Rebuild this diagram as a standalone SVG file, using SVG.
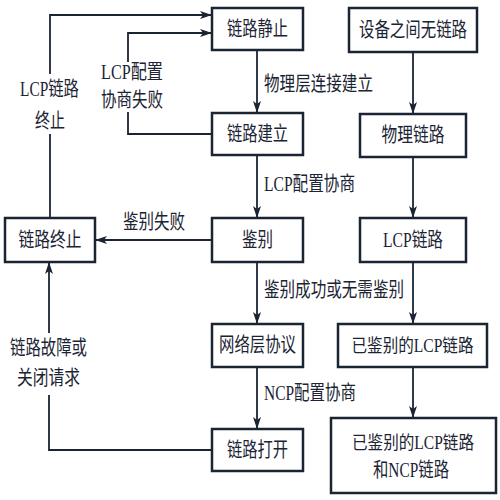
<svg xmlns="http://www.w3.org/2000/svg" width="500" height="500" viewBox="0 0 500 500">
<defs>
<marker id="ah" viewBox="0 0 12 8" refX="12" refY="4" markerWidth="12" markerHeight="8" markerUnits="userSpaceOnUse" orient="auto">
<path d="M0,0 L12,4 L0,8 L3,4 Z" fill="#1b2433"/>
</marker>
<style>
.box{fill:#fff;stroke:#1b2433;stroke-width:2.5}
.t{font-family:"Liberation Serif","Noto Sans CJK SC",serif;font-size:20px;fill:#1b2433}
.s{font-size:18px}
.c{text-anchor:middle}
.ln{fill:none;stroke:#1b2433;stroke-width:1.8}
.ar{marker-end:url(#ah)}
</style>
</defs>
<rect width="500" height="500" fill="#fff"/>
<g id="connectors">
<line class="ln ar" x1="257" y1="50" x2="257" y2="113"/>
<line class="ln ar" x1="257" y1="155" x2="257" y2="218"/>
<line class="ln ar" x1="257" y1="262" x2="257" y2="324"/>
<line class="ln ar" x1="257" y1="367" x2="257" y2="429"/>
<line class="ln ar" x1="413" y1="52" x2="413" y2="114"/>
<line class="ln ar" x1="413" y1="157" x2="413" y2="218"/>
<line class="ln ar" x1="413" y1="262" x2="413" y2="324"/>
<line class="ln ar" x1="413" y1="367" x2="413" y2="418"/>
<line class="ln ar" x1="212" y1="240" x2="95" y2="240"/>
<path class="ln" d="M50,218 V134"/>
<path class="ln ar" d="M50,74 V15 H212"/>
<path class="ln" d="M212,134 H128 V112"/>
<path class="ln ar" d="M128,62 V33 H212"/>
<path class="ln" d="M212,450 H49 V395"/>
<path class="ln ar" d="M49,333 V262"/>
<text class="t" x="264" y="91" textLength="109" lengthAdjust="spacingAndGlyphs">物理层连接建立</text>
<text class="t" x="264" y="191" textLength="91" lengthAdjust="spacingAndGlyphs">LCP配置协商</text>
<text class="t" x="264" y="297" textLength="140" lengthAdjust="spacingAndGlyphs">鉴别成功或无需鉴别</text>
<text class="t" x="264" y="400" textLength="92" lengthAdjust="spacingAndGlyphs">NCP配置协商</text>
<text class="t" x="123" y="229" textLength="62" lengthAdjust="spacingAndGlyphs">鉴别失败</text>
<text class="t" x="20" y="96" textLength="59" lengthAdjust="spacingAndGlyphs">LCP链路</text>
<text class="t" x="35" y="128" textLength="30" lengthAdjust="spacingAndGlyphs">终止</text>
<text class="t" x="101" y="79" textLength="62" lengthAdjust="spacingAndGlyphs">LCP配置</text>
<text class="t" x="101" y="107" textLength="62" lengthAdjust="spacingAndGlyphs">协商失败</text>
<text class="t" x="10" y="355" textLength="77" lengthAdjust="spacingAndGlyphs">链路故障或</text>
<text class="t" x="17" y="385" textLength="63" lengthAdjust="spacingAndGlyphs">关闭请求</text>
</g>
<g id="n1"><rect class="box" x="212" y="8" width="91" height="42"/><text class="t c" x="257.5" y="36" textLength="61" lengthAdjust="spacingAndGlyphs">链路静止</text></g>
<g id="n2"><rect class="box" x="212" y="113" width="91" height="42"/><text class="t c" x="257.5" y="141" textLength="61" lengthAdjust="spacingAndGlyphs">链路建立</text></g>
<g id="n3"><rect class="box" x="212" y="218" width="91" height="44"/><text class="t c" x="257.5" y="247" textLength="31" lengthAdjust="spacingAndGlyphs">鉴别</text></g>
<g id="n4"><rect class="box" x="212" y="324" width="91" height="43"/><text class="t c" x="257.5" y="352" textLength="77" lengthAdjust="spacingAndGlyphs">网络层协议</text></g>
<g id="n5"><rect class="box" x="212" y="429" width="91" height="42"/><text class="t c" x="257.5" y="457" textLength="61" lengthAdjust="spacingAndGlyphs">链路打开</text></g>
<g id="n6"><rect class="box" x="5" y="218" width="90" height="44"/><text class="t c" x="50" y="247" textLength="63" lengthAdjust="spacingAndGlyphs">链路终止</text></g>
<g id="n7"><rect class="box" x="349" y="8" width="128" height="44"/><text class="t c" x="413" y="37" textLength="108" lengthAdjust="spacingAndGlyphs">设备之间无链路</text></g>
<g id="n8"><rect class="box" x="360" y="114" width="106" height="43"/><text class="t c" x="413" y="142" textLength="63" lengthAdjust="spacingAndGlyphs">物理链路</text></g>
<g id="n9"><rect class="box" x="360" y="218" width="106" height="44"/><text class="t c" x="413" y="247" textLength="60" lengthAdjust="spacingAndGlyphs">LCP链路</text></g>
<g id="n10"><rect class="box" x="338" y="324" width="149" height="43"/><text class="t s c" x="412.5" y="352" textLength="122" lengthAdjust="spacingAndGlyphs">已鉴别的LCP链路</text></g>
<g id="n11"><rect class="box" x="331" y="418" width="165" height="75"/><text class="t s c" x="413" y="449" textLength="122" lengthAdjust="spacingAndGlyphs">已鉴别的LCP链路</text><text class="t c" x="411" y="477" textLength="76" lengthAdjust="spacingAndGlyphs">和NCP链路</text></g>
</svg>
